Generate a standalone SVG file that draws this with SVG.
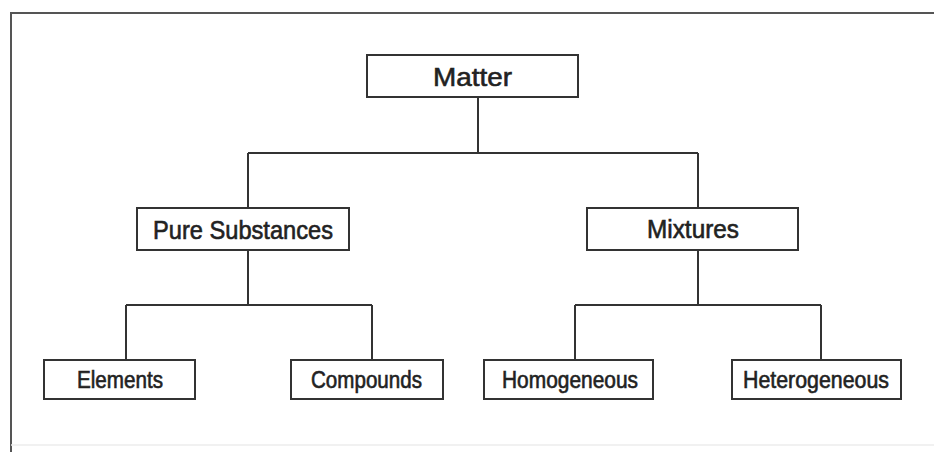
<svg xmlns="http://www.w3.org/2000/svg" width="934" height="452" viewBox="0 0 934 452">
<style>
.box{fill:#fff;stroke:#333;stroke-width:2}
.lbl{font-family:"Liberation Sans",Arial,sans-serif;fill:#222;stroke:#222;stroke-width:0.6;text-anchor:middle}
.con{fill:none;stroke:#333;stroke-width:2}
.frame{fill:none;stroke:#555;stroke-width:2}
</style>
<rect width="934" height="452" fill="#fff"/>
<g id="frame">
<path class="frame" d="M11,452 V13 H934"/>
<line x1="11" y1="445" x2="934" y2="445" stroke="#ececec" stroke-width="1.5"/>
</g>
<g id="connectors">
<path class="con" d="M478,97 V153 M248,153 H698 M248,153 V208 M698,153 V208"/>
<path class="con" d="M248,250 V305 M126,305 H372 M126,305 V360 M372,305 V360"/>
<path class="con" d="M698,250 V305 M575,305 H821 M575,305 V360 M821,305 V360"/>
</g>
<g id="matter">
<rect class="box" x="367" y="55" width="211" height="42"/>
<text class="lbl" x="472.5" y="86" font-size="26.5" textLength="79" lengthAdjust="spacingAndGlyphs">Matter</text>
</g>
<g id="pure-substances">
<rect class="box" x="137" y="208" width="212" height="42"/>
<text class="lbl" x="243" y="239" font-size="25" textLength="180" lengthAdjust="spacingAndGlyphs">Pure Substances</text>
</g>
<g id="mixtures">
<rect class="box" x="587" y="208" width="211" height="42"/>
<text class="lbl" x="693" y="238" font-size="25" textLength="92" lengthAdjust="spacingAndGlyphs">Mixtures</text>
</g>
<g id="elements">
<rect class="box" x="44" y="360" width="151" height="39"/>
<text class="lbl" x="120" y="388" font-size="23" textLength="86" lengthAdjust="spacingAndGlyphs">Elements</text>
</g>
<g id="compounds">
<rect class="box" x="291" y="360" width="152" height="39"/>
<text class="lbl" x="366.5" y="388" font-size="23" textLength="111" lengthAdjust="spacingAndGlyphs">Compounds</text>
</g>
<g id="homogeneous">
<rect class="box" x="484" y="360" width="169" height="39"/>
<text class="lbl" x="570" y="388" font-size="23" textLength="136" lengthAdjust="spacingAndGlyphs">Homogeneous</text>
</g>
<g id="heterogeneous">
<rect class="box" x="732" y="360" width="169" height="39"/>
<text class="lbl" x="816" y="388" font-size="23" textLength="146" lengthAdjust="spacingAndGlyphs">Heterogeneous</text>
</g>
</svg>
